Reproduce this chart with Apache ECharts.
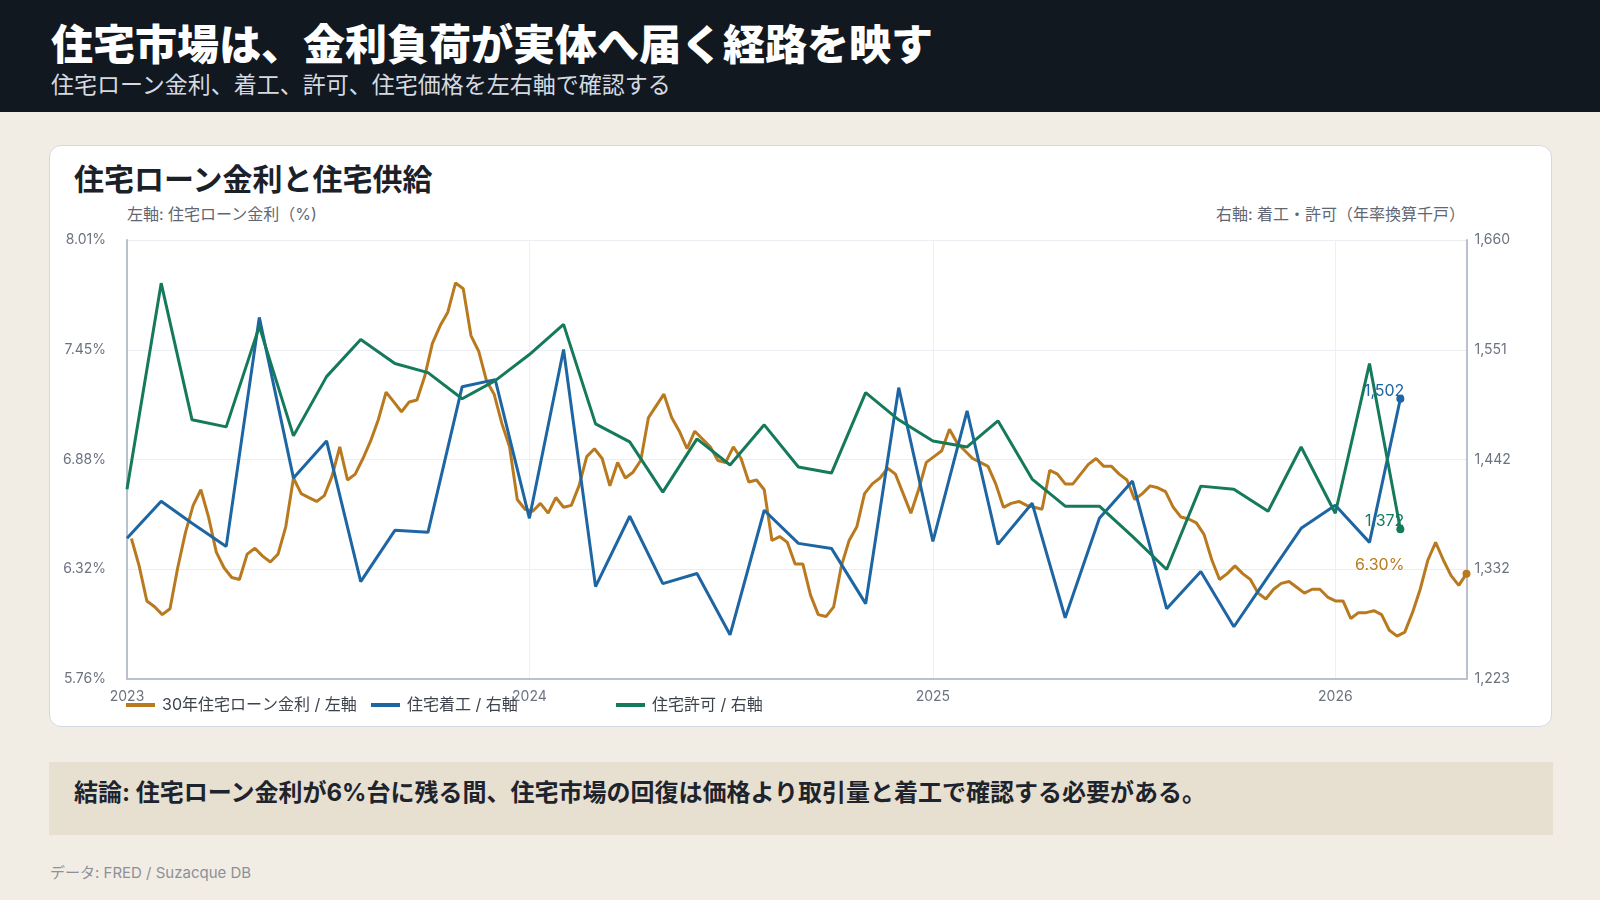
<!DOCTYPE html>
<html>
<head>
    <meta charset="utf-8" />
    <title>住宅ローン金利と住宅供給</title>
    <style>
        body { margin: 0; width: 1600px; height: 900px; background: #f2ede4; position: relative; overflow: hidden;
               font-family: Inter, "Noto Sans CJK JP", "Noto Sans", sans-serif; }
        .head { position: absolute; left: 0; top: 0; width: 1600px; height: 112px; background: #111820; }
        .t { position: absolute; margin: 0; white-space: nowrap; }
        #title { left: 51px; top: 24px; font-size: 42px; line-height: 42px; font-weight: 900; color: #ffffff; }
        #sub { left: 51px; top: 74px; font-size: 23px; line-height: 23px; color: #d6dae0; }
        .card { position: absolute; left: 49px; top: 145px; width: 1503px; height: 582px; box-sizing: border-box;
                background: #ffffff; border: 1.5px solid #d2d9e2; border-radius: 12px; }
        #cardTitle { left: 74px; top: 164px; font-size: 30px; line-height: 30px; font-weight: 700; color: #1b2129; }
        #leftName { left: 127px; top: 206px; font-size: 16px; line-height: 16px; color: #5f6774; }
        #rightName { right: 135px; top: 206px; font-size: 16px; line-height: 16px; color: #5f6774; }
        .note { position: absolute; left: 49px; top: 762px; width: 1504px; height: 73px; background: #e7dfcf; }
        #noteText { left: 74px; top: 781px; font-size: 24px; line-height: 24px; font-weight: 700; color: #1d242d; }
        #src { left: 50px; top: 865px; font-size: 15px; line-height: 15px; color: #8c9099; }
        #divChart { position: absolute; left: 0; top: 0; width: 1600px; height: 900px; z-index: 2; }
    </style>
</head>
<body>
    <div class="head"></div>
    <h1 class="t" id="title">住宅市場は、金利負荷が実体へ届く経路を映す</h1>
    <div class="t" id="sub">住宅ローン金利、着工、許可、住宅価格を左右軸で確認する</div>
    <div class="card"></div>
    <div class="t" id="cardTitle">住宅ローン金利と住宅供給</div>
    <div class="t" id="leftName">左軸: 住宅ローン金利（%)</div>
    <div class="t" id="rightName">右軸: 着工・許可（年率換算千戸）</div>
    <div class="note"></div>
    <div class="t" id="noteText">結論: 住宅ローン金利が6%台に残る間、住宅市場の回復は価格より取引量と着工で確認する必要がある。</div>
    <div class="t" id="src">データ: FRED / Suzacque DB</div>

    <div id="divChart"></div>

    <script src="https://cdn.jsdelivr.net/npm/echarts@6/dist/echarts.min.js"></script>
    <script>
        // 30年住宅ローン金利（週次, 木曜, 2023-01-05 から）
        var rate2023 = [6.48, 6.34, 6.16, 6.13, 6.09, 6.12, 6.33, 6.51, 6.65, 6.73, 6.59, 6.41, 6.33,
                        6.28, 6.27, 6.40, 6.43, 6.39, 6.36, 6.40, 6.54, 6.79, 6.71, 6.69, 6.67, 6.70,
                        6.80, 6.95, 6.78, 6.81, 6.89, 6.98, 7.09, 7.23, 7.18, 7.13, 7.18, 7.19, 7.31,
                        7.48, 7.57, 7.64, 7.79, 7.76, 7.52, 7.44, 7.29, 7.22, 7.07, 6.95, 6.68, 6.63];
        var rate2024 = [6.62, 6.66, 6.61, 6.69, 6.64, 6.65, 6.75, 6.90, 6.94, 6.89, 6.75, 6.87, 6.79,
                        6.82, 6.88, 7.10, 7.16, 7.22, 7.10, 7.03, 6.94, 7.03, 6.99, 6.95, 6.88, 6.87,
                        6.95, 6.89, 6.77, 6.78, 6.73, 6.47, 6.49, 6.46, 6.35, 6.35, 6.19, 6.09, 6.08,
                        6.13, 6.34, 6.47, 6.54, 6.71, 6.76, 6.79, 6.84, 6.81, 6.71, 6.61, 6.73, 6.87];
        var rate2025 = [6.90, 6.93, 7.04, 6.97, 6.93, 6.89, 6.87, 6.85, 6.76, 6.64, 6.66, 6.67, 6.65,
                        6.64, 6.63, 6.83, 6.81, 6.76, 6.76, 6.81, 6.86, 6.89, 6.85, 6.85, 6.81, 6.78,
                        6.68, 6.71, 6.75, 6.74, 6.72, 6.64, 6.59, 6.58, 6.56, 6.50, 6.37, 6.27, 6.30,
                        6.34, 6.30, 6.27, 6.20, 6.17, 6.22, 6.25, 6.26, 6.23, 6.20, 6.22, 6.22, 6.18];
        var rate2026 = [6.16, 6.16, 6.07, 6.10, 6.10, 6.11, 6.09, 6.01, 5.98, 6.00, 6.10, 6.22, 6.37,
                        6.46, 6.37, 6.29, 6.24, 6.30];

        // 住宅着工・住宅許可（月次, 年率換算千戸, 2023-01 から）
        var starts = [1363, 1400, 1378, 1355, 1583, 1423, 1460, 1320, 1371, 1369, 1514, 1521,
                      1383, 1551, 1315, 1385, 1318, 1328, 1267, 1391, 1358, 1353, 1298, 1513,
                      1360, 1490, 1357, 1398, 1284, 1383, 1420, 1293, 1330, 1275, 1325, 1373,
                      1396, 1359, 1502];
        var permits = [1412, 1617, 1481, 1474, 1574, 1465, 1524, 1561, 1537, 1528, 1502, 1520,
                       1546, 1576, 1477, 1459, 1409, 1462, 1436, 1476, 1434, 1428, 1508, 1481,
                       1460, 1454, 1480, 1422, 1395, 1395, 1365, 1332, 1415, 1412, 1390, 1454,
                       1388, 1537, 1372];

        var seriesNames = ['30年住宅ローン金利 / 左軸', '住宅着工 / 右軸', '住宅許可 / 右軸'];
        var leftRange = [5.76, 8.01];
        var rightRange = [1223, 1660];

        var cOrange = '#b97a1f', cBlue = '#1d65a3', cGreen = '#157a5c';
        var fontFam = 'Inter, "Noto Sans CJK JP", "Noto Sans", sans-serif';

        var rates = rate2023.concat(rate2024, rate2025, rate2026);
        var rateData = rates.map(function (v, i) { return [new Date(2023, 0, 5 + 7 * i).getTime(), v]; });
        var monthTimes = starts.map(function (v, i) { return new Date(2023, i, 1).getTime(); });
        var startData = starts.map(function (v, i) { return [monthTimes[i], v]; });
        var permitData = permits.map(function (v, i) { return [monthTimes[i], v]; });

        var lastMonth = monthTimes[monthTimes.length - 1];
        var lastRate = rateData[rateData.length - 1];
        var YEAR = 365 * 24 * 3600 * 1000;

        function fmtK(v) { return Math.round(v).toLocaleString('en-US'); }

        // 終点の丸と値ラベル
        function endMarks(color, dotCoord, labelCoord, text) {
            return {
                silent: true,
                animation: false,
                data: [
                    { coord: dotCoord, symbol: 'circle', symbolSize: 8, itemStyle: { color: color }, label: { show: false } },
                    {
                        coord: labelCoord, symbol: 'circle', symbolSize: 0,
                        label: { show: true, formatter: text, position: 'left', distance: 0, offset: [4, -8],
                                 color: color, fontSize: 16 }
                    }
                ]
            };
        }

        // 凡例は1項目ずつ固定間隔で並べる
        var legendLefts = [126, 371, 616];
        var legends = seriesNames.map(function (n, i) {
            return {
                left: legendLefts[i], top: 697, padding: 0,
                icon: 'rect', itemWidth: 29, itemHeight: 4,
                textStyle: { color: '#3d434c', fontSize: 16, padding: [0, 0, 0, 2] },
                data: [n]
            };
        });

        var myChart = echarts.init(document.getElementById('divChart'));
        var axisGray = '#b8c1cd';
        var option = {
            animation: false,
            textStyle: { fontFamily: fontFam },
            color: [cOrange, cBlue, cGreen],
            grid: { left: 127, right: 133.5, top: 240, bottom: 221, outerBoundsMode: 'none' },
            legend: legends,
            xAxis: {
                type: 'time',
                min: monthTimes[0],
                max: lastRate[0],
                minInterval: YEAR,
                maxInterval: YEAR * 1.01,
                splitNumber: 3,
                axisLine: { lineStyle: { color: axisGray, width: 2 } },
                axisTick: { show: false },
                axisLabel: {
                    color: '#6b7280', fontSize: 14, margin: 11,
                    formatter: function (val) {
                        var d = new Date(val);
                        return (d.getMonth() === 0 && d.getDate() === 1) ? String(d.getFullYear()) : '';
                    }
                },
                splitLine: { show: true, lineStyle: { color: '#edf0f4', width: 1 } }
            },
            yAxis: [
                {
                    type: 'value',
                    min: leftRange[0], max: leftRange[1],
                    interval: (leftRange[1] - leftRange[0]) / 4,
                    axisLine: { show: true, lineStyle: { color: axisGray, width: 2 } },
                    axisTick: { show: false },
                    axisLabel: { color: '#6b7280', fontSize: 14, margin: 21,
                                 formatter: function (v) { return v.toFixed(2) + '%'; } },
                    splitLine: { lineStyle: { color: '#eaedf1', width: 1 } }
                },
                {
                    type: 'value',
                    position: 'right',
                    min: rightRange[0], max: rightRange[1],
                    interval: (rightRange[1] - rightRange[0]) / 4,
                    axisLine: { show: true, lineStyle: { color: axisGray, width: 2 } },
                    axisTick: { show: false },
                    axisLabel: { color: '#6b7280', fontSize: 14, margin: 8, formatter: fmtK },
                    splitLine: { show: false }
                }
            ],
            series: [
                {
                    name: seriesNames[0], type: 'line', yAxisIndex: 0, data: rateData,
                    symbol: 'none', lineStyle: { width: 3, color: cOrange }, itemStyle: { color: cOrange },
                    markPoint: endMarks(cOrange, lastRate, [lastMonth, lastRate[1]], lastRate[1].toFixed(2) + '%')
                },
                {
                    name: seriesNames[1], type: 'line', yAxisIndex: 1, data: startData,
                    symbol: 'none', lineStyle: { width: 3, color: cBlue }, itemStyle: { color: cBlue },
                    markPoint: endMarks(cBlue, startData[startData.length - 1], startData[startData.length - 1],
                                        fmtK(starts[starts.length - 1]))
                },
                {
                    name: seriesNames[2], type: 'line', yAxisIndex: 1, data: permitData,
                    symbol: 'none', lineStyle: { width: 3, color: cGreen }, itemStyle: { color: cGreen },
                    markPoint: endMarks(cGreen, permitData[permitData.length - 1], permitData[permitData.length - 1],
                                        fmtK(permits[permits.length - 1]))
                }
            ]
        };
        myChart.setOption(option);
    </script>
</body>
</html>
